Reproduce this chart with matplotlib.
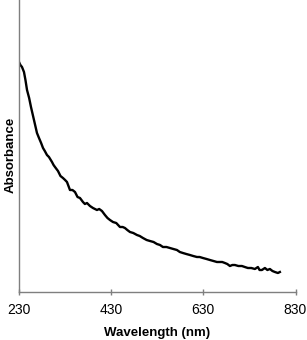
import matplotlib
matplotlib.use('Agg')
import matplotlib.pyplot as plt

plt.rcParams['font.family'] = ['Liberation Sans', 'DejaVu Sans']

# Absorbance spectrum (arbitrary absorbance units)
wavelength = [230, 233, 236.5, 240.8, 244, 247.4, 252, 256.0, 262.5, 266, 269.0,
              273.4, 278, 282.1, 286, 290.7, 295, 301.6, 305, 308.1, 314.6, 320,
              325.4, 330, 334.1, 340.6, 346, 351.5, 357, 362.3, 368.8, 373, 377.5,
              384, 390.5, 399.2, 404, 410.0, 416.5, 422, 427.4, 433.9, 441, 449.1,
              455, 459.9, 465, 470.8, 478, 486.0, 492, 499.0, 507, 514.2, 522,
              529.3, 536, 542.3, 550, 557.5, 565, 572.7, 579, 585.7, 593, 600.9,
              608, 616.1, 622, 629.1, 637, 644.3, 652, 659.5, 666.0, 671, 676.8,
              682, 687.7, 693, 698.5, 706, 713.7, 720, 726.7, 734, 741.9, 748.4,
              752, 757.1, 763.6, 769, 774.4, 780, 785.3, 791.8, 796.1]
absorbance = [2.30, 2.27, 2.25, 2.20, 2.12, 2.02, 1.94, 1.85, 1.72, 1.65, 1.59,
              1.54, 1.49, 1.44, 1.41, 1.37, 1.35, 1.30, 1.27, 1.25, 1.21, 1.16,
              1.14, 1.12, 1.10, 1.02, 1.02, 1.00, 0.95, 0.94, 0.90, 0.88, 0.89,
              0.86, 0.84, 0.82, 0.83, 0.81, 0.77, 0.74, 0.72, 0.70, 0.69, 0.65,
              0.65, 0.64, 0.62, 0.60, 0.59, 0.57, 0.56, 0.54, 0.52, 0.51, 0.50,
              0.48, 0.47, 0.45, 0.45, 0.44, 0.43, 0.42, 0.40, 0.39, 0.38, 0.37,
              0.36, 0.35, 0.35, 0.34, 0.33, 0.32, 0.31, 0.30, 0.30, 0.30, 0.29,
              0.28, 0.26, 0.27, 0.27, 0.26, 0.26, 0.25, 0.24, 0.24, 0.23, 0.25,
              0.22, 0.22, 0.24, 0.22, 0.23, 0.21, 0.20, 0.19, 0.20]
x_ticks = [230, 430, 630, 830]

fig = plt.figure(figsize=(3.07, 3.40), dpi=100)
ax = fig.add_axes([19 / 307, 48 / 340, 276.5 / 307, 292 / 340])

ax.plot(wavelength, absorbance, color='black', linewidth=1.7)

ax.set_xlim(230, 830)
ax.set_ylim(0, 2.92)
ax.set_xticks(x_ticks)
ax.set_xticklabels([str(t) for t in x_ticks], fontsize=10)
ax.set_yticks([])

for side in ['top', 'right']:
    ax.spines[side].set_visible(False)
for side in ['left', 'bottom']:
    ax.spines[side].set_color('#7f7f7f')
    ax.spines[side].set_linewidth(1.0)

ax.tick_params(axis='x', direction='inout', length=4, width=1.0,
               color='#7f7f7f', pad=6)

ax.set_xlabel('Wavelength (nm)', fontsize=9.5, fontweight='bold', labelpad=7)
ax.set_ylabel('Absorbance', fontsize=9.5, fontweight='bold', labelpad=0)
ax.yaxis.set_label_coords(-0.01, 0.47)

fig.savefig('out.png', dpi=100)
